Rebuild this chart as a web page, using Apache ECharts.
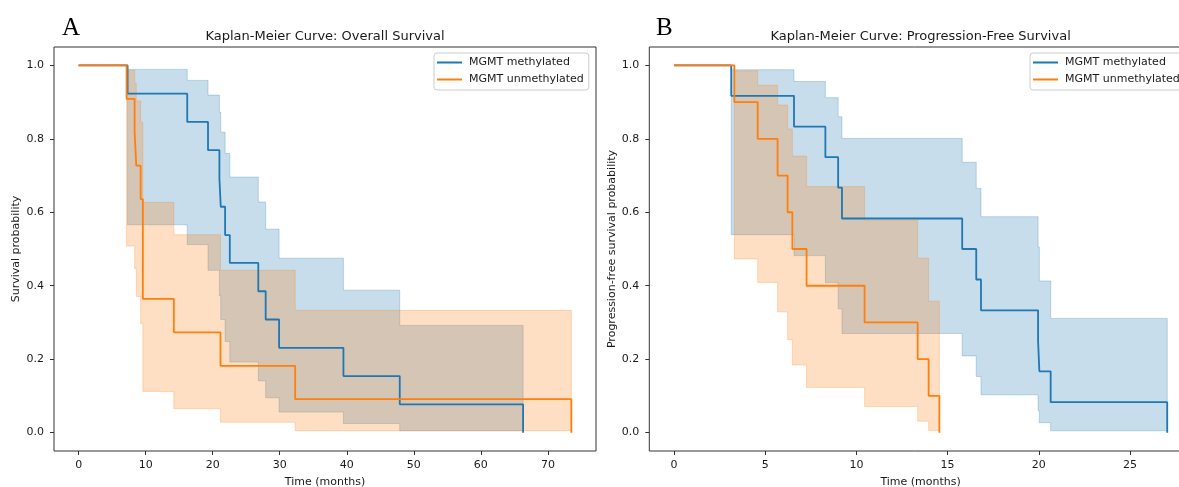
<!DOCTYPE html>
<html><head><meta charset="utf-8">
<script src="https://cdn.jsdelivr.net/npm/echarts@6/dist/echarts.min.js"></script>
<style>html,body{margin:0;padding:0;background:#fff}#c{width:1179px;height:487px}</style>
</head><body><div id="c"></div>
<script>
// ---------- data ----------
const groupNames = ['MGMT methylated', 'MGMT unmethylated'];
const osXTicks = [0, 10, 20, 30, 40, 50, 60, 70];
const pfsXTicks = [0, 5, 10, 15, 20, 25];
const yTicks = [0, 0.2, 0.4, 0.6, 0.8, 1.0];

// Overall survival, MGMT methylated
const osMethTime  = [0, 7.3, 16.2, 19.3, 21.0, 21.2, 21.85, 22.55, 26.8, 27.9, 29.9, 39.5, 47.9, 66.3];
const osMethSurv  = [1, 0.923, 0.846, 0.769, 0.692, 0.615, 0.538, 0.462, 0.385, 0.308, 0.231, 0.154, 0.077, 0];
const osMethLower = [1, 0.566, 0.512, 0.442, 0.373, 0.308, 0.248, 0.192, 0.141, 0.095, 0.056, 0.025, 0.005];
const osMethUpper = [1, 0.989, 0.959, 0.919, 0.872, 0.818, 0.760, 0.696, 0.628, 0.554, 0.475, 0.388, 0.292];

// Overall survival, MGMT unmethylated
const osUnTime  = [0, 7.15, 8.35, 8.6, 9.25, 9.58, 14.2, 21.16, 32.3, 73.5];
const osUnSurv  = [1, 0.909, 0.818, 0.727, 0.636, 0.364, 0.273, 0.182, 0.091, 0];
const osUnLower = [1, 0.508, 0.447, 0.371, 0.297, 0.112, 0.065, 0.0285, 0.0054];
const osUnUpper = [1, 0.987, 0.951, 0.903, 0.845, 0.627, 0.539, 0.442, 0.333];

// Progression-free survival, MGMT methylated
const pfsMethTime  = [0, 3.14, 6.58, 8.30, 9.0, 9.21, 15.8, 16.57, 16.83, 19.96, 20.03, 20.65, 27.04];
const pfsMethSurv  = [1, 0.917, 0.833, 0.75, 0.667, 0.583, 0.5, 0.417, 0.333, 0.25, 0.167, 0.083, 0];
const pfsMethLower = [1, 0.539, 0.482, 0.408, 0.337, 0.270, 0.209, 0.153, 0.103, 0.060, 0.027, 0.005];
const pfsMethUpper = [1, 0.988, 0.956, 0.912, 0.860, 0.801, 0.736, 0.665, 0.588, 0.505, 0.413, 0.311];

// Progression-free survival, MGMT unmethylated
const pfsUnTime  = [0, 3.31, 4.59, 5.68, 6.23, 6.49, 7.27, 10.45, 13.36, 13.96, 14.55];
const pfsUnSurv  = [1, 0.9, 0.8, 0.7, 0.6, 0.5, 0.4, 0.3, 0.2, 0.1, 0];
const pfsUnLower = [1, 0.473, 0.409, 0.329, 0.253, 0.184, 0.123, 0.071, 0.031, 0.006];
const pfsUnUpper = [1, 0.985, 0.946, 0.892, 0.827, 0.753, 0.670, 0.578, 0.475, 0.358];

// ---------- styling ----------
const BLUE = '#1f77b4', ORANGE = '#ff7f0e';
const BLUE_A = 'rgba(31,119,180,0.25)', ORANGE_A = 'rgba(255,127,14,0.25)';
const FONT = 'DejaVu Sans';
const TXT = '#1a1a1a';
const SPINE = '#333333';

function band(name, times, lower, upper, color, xi) {
  const rows = lower.map((lo, i) => [times[i], lo, upper[i]]);
  rows.push([times[times.length - 1], lower[lower.length - 1], upper[upper.length - 1]]);
  return {
    type: 'custom', name: name, xAxisIndex: xi, yAxisIndex: xi, data: rows,
    encode: { x: 0, y: [1, 2] }, silent: true, z: 2,
    renderItem: function (params, api) {
      if (params.dataIndex !== 0) return null;
      const top = [], bot = [];
      for (let i = 0; i < rows.length - 1; i++) {
        top.push(api.coord([rows[i][0], rows[i][2]]), api.coord([rows[i + 1][0], rows[i][2]]));
        bot.push(api.coord([rows[i][0], rows[i][1]]), api.coord([rows[i + 1][0], rows[i][1]]));
      }
      return { type: 'polygon', shape: { points: top.concat(bot.reverse()) },
               style: { fill: color, stroke: color, lineWidth: 1 } };
    }
  };
}
function kmLine(name, times, surv, color, xi) {
  return {
    type: 'line', name: name, xAxisIndex: xi, yAxisIndex: xi, step: 'end',
    symbol: 'none', showSymbol: false, z: 2,
    data: times.map((t, i) => [t, surv[i]]),
    lineStyle: { color: color, width: 1.8 }, itemStyle: { color: color },
    emphasis: { disabled: true }
  };
}
function xAx(gi, min, max, ticks) {
  return {
    type: 'value', gridIndex: gi, min: min, max: max,
    name: 'Time (months)', nameLocation: 'middle', nameGap: 25,
    nameTextStyle: { fontFamily: FONT, fontSize: 11, color: TXT, lineHeight: 12 },
    axisLine: { show: false, onZero: false },
    axisTick: { show: true, length: 4, customValues: ticks, lineStyle: { color: SPINE, width: 1 } },
    axisLabel: { customValues: ticks, margin: 9, fontFamily: FONT, fontSize: 11, color: TXT,
                 formatter: v => String(v) },
    splitLine: { show: false }
  };
}
function yAx(gi, name) {
  return {
    type: 'value', gridIndex: gi, min: -0.05, max: 1.05,
    name: name, nameLocation: 'middle', nameGap: 26,
    nameTextStyle: { fontFamily: FONT, fontSize: 11, color: TXT, lineHeight: 12 },
    axisLine: { show: false, onZero: false },
    axisTick: { show: true, length: 4, customValues: yTicks, lineStyle: { color: SPINE, width: 1 } },
    axisLabel: { customValues: yTicks, margin: 10, fontFamily: FONT, fontSize: 11, color: TXT,
                 formatter: v => v.toFixed(1) },
    splitLine: { show: false }
  };
}
function legend(left) {
  return {
    left: left, top: 53, orient: 'vertical', data: groupNames,
    icon: 'rect', itemWidth: 25, itemHeight: 2, itemGap: 4, padding: [3, 5, 4, 3],
    borderColor: '#cccccc', borderWidth: 1, borderRadius: 3,
    backgroundColor: 'rgba(255,255,255,0.8)', selectedMode: false,
    textStyle: { fontFamily: FONT, fontSize: 11, color: TXT, lineHeight: 13, padding: [0, 0, 0, 2] }
  };
}
const titleStyle = { fontFamily: FONT, fontSize: 13, fontWeight: 'normal', color: TXT, lineHeight: 13 };
const letterStyle = { fontFamily: 'Liberation Serif', fontSize: 25, fontWeight: 'normal', color: '#000', lineHeight: 25 };

const osMax = 73.5, pfsMax = 27.04;
const option = {
  animation: false,
  backgroundColor: '#ffffff',
  title: [
    { text: 'A', left: 62, top: 16, padding: 0, textStyle: letterStyle },
    { text: 'B', left: 656, top: 16, padding: 0, textStyle: letterStyle },
    { text: 'Kaplan-Meier Curve: Overall Survival', left: 325, top: 30, textAlign: 'center', padding: 0, textStyle: titleStyle },
    { text: 'Kaplan-Meier Curve: Progression-Free Survival', left: 920.6, top: 30, textAlign: 'center', padding: 0, textStyle: titleStyle }
  ],
  legend: [legend(434), legend(1030)],
  grid: [
    { left: 54, top: 47, width: 542, height: 404, show: true, borderColor: SPINE, borderWidth: 1,
      backgroundColor: 'transparent', containLabel: false, outerBoundsMode: 'none' },
    { left: 649.3, top: 47, width: 542.6, height: 404, show: true, borderColor: SPINE, borderWidth: 1,
      backgroundColor: 'transparent', containLabel: false, outerBoundsMode: 'none' }
  ],
  xAxis: [xAx(0, -0.05 * osMax, 1.05 * osMax, osXTicks), xAx(1, -0.05 * pfsMax, 1.05 * pfsMax, pfsXTicks)],
  yAxis: [yAx(0, 'Survival probability'), yAx(1, 'Progression-free survival probability')],
  series: [
    band('os_meth_ci', osMethTime, osMethLower, osMethUpper, BLUE_A, 0),
    kmLine(groupNames[0], osMethTime, osMethSurv, BLUE, 0),
    band('os_un_ci', osUnTime, osUnLower, osUnUpper, ORANGE_A, 0),
    kmLine(groupNames[1], osUnTime, osUnSurv, ORANGE, 0),
    band('pfs_meth_ci', pfsMethTime, pfsMethLower, pfsMethUpper, BLUE_A, 1),
    kmLine(groupNames[0], pfsMethTime, pfsMethSurv, BLUE, 1),
    band('pfs_un_ci', pfsUnTime, pfsUnLower, pfsUnUpper, ORANGE_A, 1),
    kmLine(groupNames[1], pfsUnTime, pfsUnSurv, ORANGE, 1)
  ]
};
const chart = echarts.init(document.getElementById('c'), null, { renderer: 'canvas' });
chart.setOption(option);
</script>
</body></html>
